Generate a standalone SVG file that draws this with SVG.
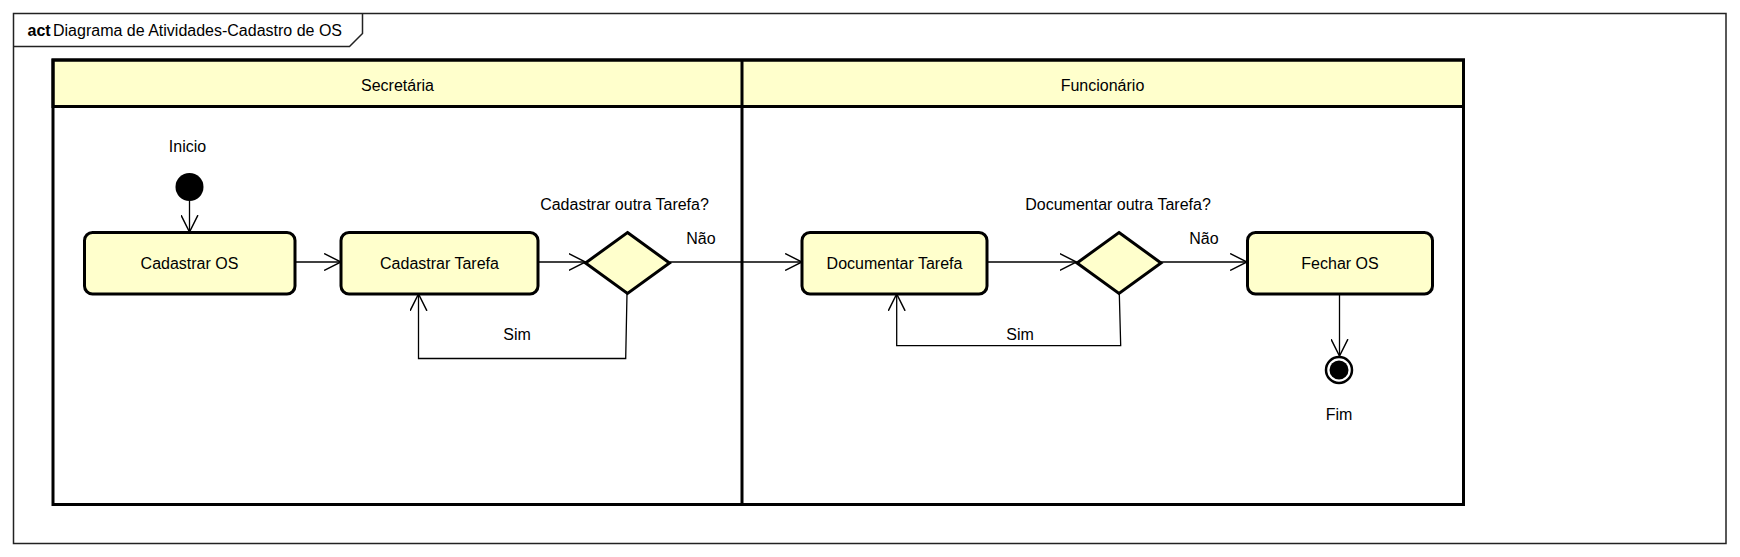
<svg xmlns="http://www.w3.org/2000/svg" width="1740" height="557" viewBox="0 0 1740 557">
<style>
text{font-family:"Liberation Sans",Arial,sans-serif;font-size:16px;fill:#000}
.c{text-anchor:middle}
.node{fill:#FFFFCC;stroke:#000;stroke-width:3}
.lane{fill:none;stroke:#000;stroke-width:3}
.hdr{fill:#FFFFCC;stroke:#000;stroke-width:3}
.edge{fill:none;stroke:#000;stroke-width:1.3}
</style>
<defs>
<marker id="arr" markerUnits="userSpaceOnUse" markerWidth="18" markerHeight="18" viewBox="0 0 16 16" refX="15" refY="8" orient="auto">
<path d="M0,0.5 L15,8 L0,15.5" fill="none" stroke="#000" stroke-width="1.3"/>
</marker>
</defs>
<rect width="1740" height="557" fill="#fff"/>
<g id="frame">
<rect x="13.5" y="13.5" width="1712.5" height="530" fill="none" stroke="#222" stroke-width="1.5"/>
<path d="M13.5,46.5 L349.5,46.5 L362.5,33.5 L362.5,13.5" fill="none" stroke="#222" stroke-width="1.5"/>
<text x="27.5" y="36" style="font-weight:bold">act</text>
<text x="53" y="36">Diagrama de Atividades-Cadastro de OS</text>
</g>
<g id="lanes">
<rect class="hdr" x="53" y="60" width="1410.5" height="46.5"/>
<rect class="lane" x="53" y="60" width="1410.5" height="444.5"/>
<line x1="742" y1="60" x2="742" y2="504.5" stroke="#000" stroke-width="3"/>
<text class="c" x="397.5" y="90.5">Secretária</text>
<text class="c" x="1102.5" y="90.5">Funcionário</text>
</g>
<g id="connectors">
<path class="edge" d="M189.5,201 L189.5,232" marker-end="url(#arr)"/>
<path class="edge" d="M295,262 L341,262" marker-end="url(#arr)"/>
<path class="edge" d="M538,262 L585.5,262" marker-end="url(#arr)"/>
<path class="edge" d="M669.5,262 L802,262" marker-end="url(#arr)"/>
<path class="edge" d="M627,293.5 L625.7,358.5 L418.5,358.5 L418.5,294" marker-end="url(#arr)"/>
<path class="edge" d="M987,262 L1076.5,262" marker-end="url(#arr)"/>
<path class="edge" d="M1161,262 L1247,262" marker-end="url(#arr)"/>
<path class="edge" d="M1119.3,293.5 L1120.7,345.7 L896.7,345.7 L896.7,294" marker-end="url(#arr)"/>
<path class="edge" d="M1339.5,294 L1339.5,356" marker-end="url(#arr)"/>
<text class="c" x="701" y="243.5">Não</text>
<text class="c" x="517" y="339.5">Sim</text>
<text class="c" x="1204" y="243.5">Não</text>
<text class="c" x="1020" y="339.5">Sim</text>
</g>
<g id="inicio">
<circle cx="189.5" cy="187" r="14" fill="#000"/>
<text class="c" x="187.5" y="151.5">Inicio</text>
</g>
<g id="cadastrar-os">
<rect class="node" x="84.5" y="232.5" width="210.5" height="61.5" rx="8"/>
<text class="c" x="189.5" y="269">Cadastrar OS</text>
</g>
<g id="cadastrar-tarefa">
<rect class="node" x="341" y="232.5" width="197" height="61.5" rx="8"/>
<text class="c" x="439.5" y="269">Cadastrar Tarefa</text>
</g>
<g id="decisao-cadastrar">
<path class="node" d="M627.5,232.5 L669.5,263 L627.5,293.5 L585.5,263 Z"/>
<text class="c" x="624.5" y="209.5">Cadastrar outra Tarefa?</text>
</g>
<g id="documentar-tarefa">
<rect class="node" x="802" y="232.5" width="185" height="61.5" rx="8"/>
<text class="c" x="894.5" y="269">Documentar Tarefa</text>
</g>
<g id="decisao-documentar">
<path class="node" d="M1119,232.5 L1161,263 L1119,293.5 L1077,263 Z"/>
<text class="c" x="1118" y="209.5">Documentar outra Tarefa?</text>
</g>
<g id="fechar-os">
<rect class="node" x="1247.5" y="232.5" width="185" height="61.5" rx="8"/>
<text class="c" x="1340" y="269">Fechar OS</text>
</g>
<g id="fim">
<circle cx="1339" cy="370" r="13" fill="#fff" stroke="#000" stroke-width="2.5"/>
<circle cx="1339" cy="370" r="9.5" fill="#000"/>
<text class="c" x="1339" y="419.5">Fim</text>
</g>
</svg>
